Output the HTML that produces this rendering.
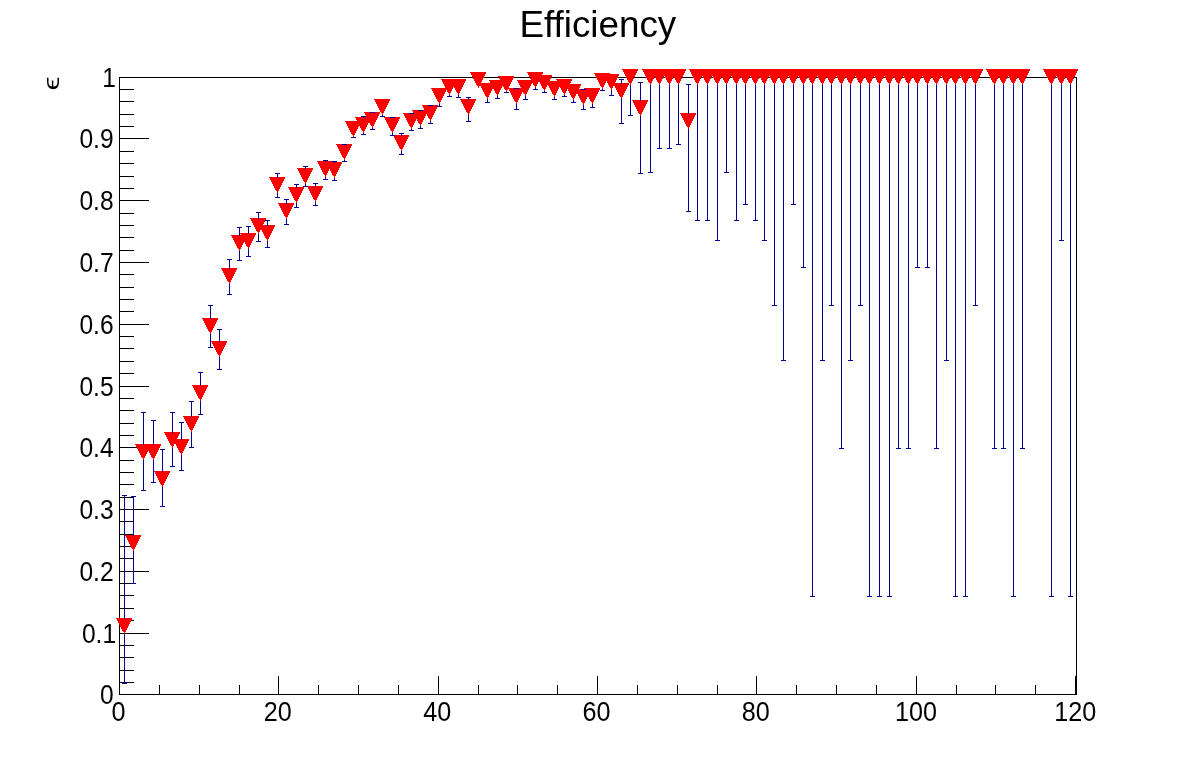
<!DOCTYPE html>
<html><head><meta charset="utf-8"><title>Efficiency</title>
<style>html,body{margin:0;padding:0;background:#fff;}svg{display:block;will-change:transform;}text{font-family:"Liberation Sans",sans-serif;fill:#000;}</style></head>
<body>
<svg width="1196" height="772" viewBox="0 0 1196 772">
<rect width="1196" height="772" fill="#fff"/>
<g shape-rendering="crispEdges" stroke="#000" stroke-width="1" fill="none">
<rect x="119.5" y="77.5" width="957" height="617"/>
<line x1="119.5" y1="694.5" x2="119.5" y2="675.5"/>
<line x1="159.5" y1="694.5" x2="159.5" y2="684.5"/>
<line x1="199.5" y1="694.5" x2="199.5" y2="684.5"/>
<line x1="239.5" y1="694.5" x2="239.5" y2="684.5"/>
<line x1="278.5" y1="694.5" x2="278.5" y2="675.5"/>
<line x1="318.5" y1="694.5" x2="318.5" y2="684.5"/>
<line x1="358.5" y1="694.5" x2="358.5" y2="684.5"/>
<line x1="398.5" y1="694.5" x2="398.5" y2="684.5"/>
<line x1="438.5" y1="694.5" x2="438.5" y2="675.5"/>
<line x1="478.5" y1="694.5" x2="478.5" y2="684.5"/>
<line x1="517.5" y1="694.5" x2="517.5" y2="684.5"/>
<line x1="557.5" y1="694.5" x2="557.5" y2="684.5"/>
<line x1="597.5" y1="694.5" x2="597.5" y2="675.5"/>
<line x1="637.5" y1="694.5" x2="637.5" y2="684.5"/>
<line x1="677.5" y1="694.5" x2="677.5" y2="684.5"/>
<line x1="717.5" y1="694.5" x2="717.5" y2="684.5"/>
<line x1="756.5" y1="694.5" x2="756.5" y2="675.5"/>
<line x1="796.5" y1="694.5" x2="796.5" y2="684.5"/>
<line x1="836.5" y1="694.5" x2="836.5" y2="684.5"/>
<line x1="876.5" y1="694.5" x2="876.5" y2="684.5"/>
<line x1="916.5" y1="694.5" x2="916.5" y2="675.5"/>
<line x1="956.5" y1="694.5" x2="956.5" y2="684.5"/>
<line x1="995.5" y1="694.5" x2="995.5" y2="684.5"/>
<line x1="1035.5" y1="694.5" x2="1035.5" y2="684.5"/>
<line x1="1075.5" y1="694.5" x2="1075.5" y2="675.5"/>
<line x1="119.5" y1="694.5" x2="148.5" y2="694.5"/>
<line x1="119.5" y1="682.5" x2="133.5" y2="682.5"/>
<line x1="119.5" y1="670.5" x2="133.5" y2="670.5"/>
<line x1="119.5" y1="657.5" x2="133.5" y2="657.5"/>
<line x1="119.5" y1="645.5" x2="133.5" y2="645.5"/>
<line x1="119.5" y1="633.5" x2="148.5" y2="633.5"/>
<line x1="119.5" y1="620.5" x2="133.5" y2="620.5"/>
<line x1="119.5" y1="608.5" x2="133.5" y2="608.5"/>
<line x1="119.5" y1="595.5" x2="133.5" y2="595.5"/>
<line x1="119.5" y1="583.5" x2="133.5" y2="583.5"/>
<line x1="119.5" y1="571.5" x2="148.5" y2="571.5"/>
<line x1="119.5" y1="558.5" x2="133.5" y2="558.5"/>
<line x1="119.5" y1="546.5" x2="133.5" y2="546.5"/>
<line x1="119.5" y1="534.5" x2="133.5" y2="534.5"/>
<line x1="119.5" y1="521.5" x2="133.5" y2="521.5"/>
<line x1="119.5" y1="509.5" x2="148.5" y2="509.5"/>
<line x1="119.5" y1="497.5" x2="133.5" y2="497.5"/>
<line x1="119.5" y1="484.5" x2="133.5" y2="484.5"/>
<line x1="119.5" y1="472.5" x2="133.5" y2="472.5"/>
<line x1="119.5" y1="460.5" x2="133.5" y2="460.5"/>
<line x1="119.5" y1="447.5" x2="148.5" y2="447.5"/>
<line x1="119.5" y1="435.5" x2="133.5" y2="435.5"/>
<line x1="119.5" y1="423.5" x2="133.5" y2="423.5"/>
<line x1="119.5" y1="410.5" x2="133.5" y2="410.5"/>
<line x1="119.5" y1="398.5" x2="133.5" y2="398.5"/>
<line x1="119.5" y1="386.5" x2="148.5" y2="386.5"/>
<line x1="119.5" y1="373.5" x2="133.5" y2="373.5"/>
<line x1="119.5" y1="361.5" x2="133.5" y2="361.5"/>
<line x1="119.5" y1="348.5" x2="133.5" y2="348.5"/>
<line x1="119.5" y1="336.5" x2="133.5" y2="336.5"/>
<line x1="119.5" y1="324.5" x2="148.5" y2="324.5"/>
<line x1="119.5" y1="311.5" x2="133.5" y2="311.5"/>
<line x1="119.5" y1="299.5" x2="133.5" y2="299.5"/>
<line x1="119.5" y1="287.5" x2="133.5" y2="287.5"/>
<line x1="119.5" y1="274.5" x2="133.5" y2="274.5"/>
<line x1="119.5" y1="262.5" x2="148.5" y2="262.5"/>
<line x1="119.5" y1="250.5" x2="133.5" y2="250.5"/>
<line x1="119.5" y1="237.5" x2="133.5" y2="237.5"/>
<line x1="119.5" y1="225.5" x2="133.5" y2="225.5"/>
<line x1="119.5" y1="213.5" x2="133.5" y2="213.5"/>
<line x1="119.5" y1="200.5" x2="148.5" y2="200.5"/>
<line x1="119.5" y1="188.5" x2="133.5" y2="188.5"/>
<line x1="119.5" y1="176.5" x2="133.5" y2="176.5"/>
<line x1="119.5" y1="163.5" x2="133.5" y2="163.5"/>
<line x1="119.5" y1="151.5" x2="133.5" y2="151.5"/>
<line x1="119.5" y1="138.5" x2="148.5" y2="138.5"/>
<line x1="119.5" y1="126.5" x2="133.5" y2="126.5"/>
<line x1="119.5" y1="114.5" x2="133.5" y2="114.5"/>
<line x1="119.5" y1="101.5" x2="133.5" y2="101.5"/>
<line x1="119.5" y1="89.5" x2="133.5" y2="89.5"/>
<line x1="119.5" y1="77.5" x2="148.5" y2="77.5"/>
</g>
<g font-size="26.8px">
<text transform="translate(118.5,721) scale(0.94,1)" text-anchor="middle">0</text>
<text transform="translate(277.8,721) scale(0.94,1)" text-anchor="middle">20</text>
<text transform="translate(437.2,721) scale(0.94,1)" text-anchor="middle">40</text>
<text transform="translate(596.5,721) scale(0.94,1)" text-anchor="middle">60</text>
<text transform="translate(755.8,721) scale(0.94,1)" text-anchor="middle">80</text>
<text transform="translate(916.0,721) scale(0.94,1)" text-anchor="middle">100</text>
<text transform="translate(1075.3,721) scale(0.94,1)" text-anchor="middle">120</text>
<text transform="translate(113.6,704.0) scale(0.918,1)" text-anchor="end">0</text>
<text transform="translate(116.1,643.0) scale(0.918,1)" text-anchor="end">0.1</text>
<text transform="translate(113.6,581.0) scale(0.918,1)" text-anchor="end">0.2</text>
<text transform="translate(113.6,519.0) scale(0.918,1)" text-anchor="end">0.3</text>
<text transform="translate(113.6,457.0) scale(0.918,1)" text-anchor="end">0.4</text>
<text transform="translate(113.6,396.0) scale(0.918,1)" text-anchor="end">0.5</text>
<text transform="translate(113.6,334.0) scale(0.918,1)" text-anchor="end">0.6</text>
<text transform="translate(113.6,272.0) scale(0.918,1)" text-anchor="end">0.7</text>
<text transform="translate(113.6,210.0) scale(0.918,1)" text-anchor="end">0.8</text>
<text transform="translate(113.6,148.0) scale(0.918,1)" text-anchor="end">0.9</text>
<text transform="translate(116.0,87.0) scale(0.918,1)" text-anchor="end">1</text>
</g>
<text transform="translate(597.8,36.6) scale(1.014,1)" font-size="36.3px" text-anchor="middle">Efficiency</text>
<text transform="translate(59.3,90.5) rotate(-90) scale(1.22,0.855)" font-size="26px">ϵ</text>
<g shape-rendering="crispEdges" fill="#ff0000" stroke="none">
<polygon points="116,618 132.6,618 124.5,634.4"/>
<polygon points="125,535 141.6,535 133.5,551.4"/>
<polygon points="135,444 151.6,444 143.5,460.4"/>
<polygon points="145,444 161.6,444 153.5,460.4"/>
<polygon points="154,471 170.6,471 162.5,487.4"/>
<polygon points="164,432 180.6,432 172.5,448.4"/>
<polygon points="173,439 189.6,439 181.5,455.4"/>
<polygon points="183,416 199.6,416 191.5,432.4"/>
<polygon points="192,385 208.6,385 200.5,401.4"/>
<polygon points="202,318 218.6,318 210.5,334.4"/>
<polygon points="211,341 227.6,341 219.5,357.4"/>
<polygon points="221,268 237.6,268 229.5,284.4"/>
<polygon points="231,235 247.6,235 239.5,251.4"/>
<polygon points="240,233 256.6,233 248.5,249.4"/>
<polygon points="250,218 266.6,218 258.5,234.4"/>
<polygon points="259,225 275.6,225 267.5,241.4"/>
<polygon points="269,177 285.6,177 277.5,193.4"/>
<polygon points="278,203 294.6,203 286.5,219.4"/>
<polygon points="288,187 304.6,187 296.5,203.4"/>
<polygon points="297,168 313.6,168 305.5,184.4"/>
<polygon points="307,186 323.6,186 315.5,202.4"/>
<polygon points="317,161 333.6,161 325.5,177.4"/>
<polygon points="326,162 342.6,162 334.5,178.4"/>
<polygon points="336,144 352.6,144 344.5,160.4"/>
<polygon points="345,121 361.6,121 353.5,137.4"/>
<polygon points="355,117 371.6,117 363.5,133.4"/>
<polygon points="364,112 380.6,112 372.5,128.4"/>
<polygon points="374,99 390.6,99 382.5,115.4"/>
<polygon points="384,117 400.6,117 392.5,133.4"/>
<polygon points="393,135 409.6,135 401.5,151.4"/>
<polygon points="403,113 419.6,113 411.5,129.4"/>
<polygon points="412,110 428.6,110 420.5,126.4"/>
<polygon points="422,105 438.6,105 430.5,121.4"/>
<polygon points="431,88 447.6,88 439.5,104.4"/>
<polygon points="441,79 457.6,79 449.5,95.4"/>
<polygon points="450,79 466.6,79 458.5,95.4"/>
<polygon points="460,99 476.6,99 468.5,115.4"/>
<polygon points="470,72 486.6,72 478.5,88.4"/>
<polygon points="479,83 495.6,83 487.5,99.4"/>
<polygon points="489,80 505.6,80 497.5,96.4"/>
<polygon points="498,76 514.6,76 506.5,92.4"/>
<polygon points="508,88 524.6,88 516.5,104.4"/>
<polygon points="517,80 533.6,80 525.5,96.4"/>
<polygon points="527,72 543.6,72 535.5,88.4"/>
<polygon points="536,75 552.6,75 544.5,91.4"/>
<polygon points="546,81 562.6,81 554.5,97.4"/>
<polygon points="556,79 572.6,79 564.5,95.4"/>
<polygon points="565,84 581.6,84 573.5,100.4"/>
<polygon points="575,89 591.6,89 583.5,105.4"/>
<polygon points="584,88 600.6,88 592.5,104.4"/>
<polygon points="594,73 610.6,73 602.5,89.4"/>
<polygon points="603,74 619.6,74 611.5,90.4"/>
<polygon points="613,83 629.6,83 621.5,99.4"/>
<polygon points="622,69 638.6,69 630.5,85.4"/>
<polygon points="632,100 648.6,100 640.5,116.4"/>
<polygon points="642,69 658.6,69 650.5,85.4"/>
<polygon points="651,69 667.6,69 659.5,85.4"/>
<polygon points="661,69 677.6,69 669.5,85.4"/>
<polygon points="670,69 686.6,69 678.5,85.4"/>
<polygon points="680,113 696.6,113 688.5,129.4"/>
<polygon points="689,69 705.6,69 697.5,85.4"/>
<polygon points="699,69 715.6,69 707.5,85.4"/>
<polygon points="709,69 725.6,69 717.5,85.4"/>
<polygon points="718,69 734.6,69 726.5,85.4"/>
<polygon points="728,69 744.6,69 736.5,85.4"/>
<polygon points="737,69 753.6,69 745.5,85.4"/>
<polygon points="747,69 763.6,69 755.5,85.4"/>
<polygon points="756,69 772.6,69 764.5,85.4"/>
<polygon points="766,69 782.6,69 774.5,85.4"/>
<polygon points="775,69 791.6,69 783.5,85.4"/>
<polygon points="785,69 801.6,69 793.5,85.4"/>
<polygon points="795,69 811.6,69 803.5,85.4"/>
<polygon points="804,69 820.6,69 812.5,85.4"/>
<polygon points="814,69 830.6,69 822.5,85.4"/>
<polygon points="823,69 839.6,69 831.5,85.4"/>
<polygon points="833,69 849.6,69 841.5,85.4"/>
<polygon points="842,69 858.6,69 850.5,85.4"/>
<polygon points="852,69 868.6,69 860.5,85.4"/>
<polygon points="861,69 877.6,69 869.5,85.4"/>
<polygon points="871,69 887.6,69 879.5,85.4"/>
<polygon points="881,69 897.6,69 889.5,85.4"/>
<polygon points="890,69 906.6,69 898.5,85.4"/>
<polygon points="900,69 916.6,69 908.5,85.4"/>
<polygon points="909,69 925.6,69 917.5,85.4"/>
<polygon points="919,69 935.6,69 927.5,85.4"/>
<polygon points="928,69 944.6,69 936.5,85.4"/>
<polygon points="938,69 954.6,69 946.5,85.4"/>
<polygon points="947,69 963.6,69 955.5,85.4"/>
<polygon points="957,69 973.6,69 965.5,85.4"/>
<polygon points="967,69 983.6,69 975.5,85.4"/>
<polygon points="986,69 1002.6,69 994.5,85.4"/>
<polygon points="995,69 1011.6,69 1003.5,85.4"/>
<polygon points="1005,69 1021.6,69 1013.5,85.4"/>
<polygon points="1014,69 1030.6,69 1022.5,85.4"/>
<polygon points="1043,69 1059.6,69 1051.5,85.4"/>
<polygon points="1053,69 1069.6,69 1061.5,85.4"/>
<polygon points="1062,69 1078.6,69 1070.5,85.4"/>
</g>
<g shape-rendering="crispEdges" stroke="#000099" stroke-width="1" fill="none">
<path d="M124.5 619V495M122 495.5H127"/>
<path d="M124.5 634V684M122 683.5H127"/>
<path d="M133.5 536V496M131 496.5H136"/>
<path d="M133.5 551V584M131 583.5H136"/>
<path d="M143.5 445V412M141 412.5H146"/>
<path d="M143.5 460V491M141 490.5H146"/>
<path d="M153.5 445V420M151 420.5H156"/>
<path d="M153.5 460V483M151 482.5H156"/>
<path d="M162.5 472V449M160 449.5H165"/>
<path d="M162.5 487V507M160 506.5H165"/>
<path d="M172.5 433V412M170 412.5H175"/>
<path d="M172.5 448V467M170 466.5H175"/>
<path d="M181.5 440V422M179 422.5H184"/>
<path d="M181.5 455V471M179 470.5H184"/>
<path d="M191.5 417V401M189 401.5H194"/>
<path d="M191.5 432V448M189 447.5H194"/>
<path d="M200.5 386V372M198 372.5H203"/>
<path d="M200.5 401V415M198 414.5H203"/>
<path d="M210.5 319V305M208 305.5H213"/>
<path d="M210.5 334V348M208 347.5H213"/>
<path d="M219.5 342V329M217 329.5H222"/>
<path d="M219.5 357V370M217 369.5H222"/>
<path d="M229.5 269V259M227 259.5H232"/>
<path d="M229.5 284V295M227 294.5H232"/>
<path d="M239.5 236V227M237 227.5H242"/>
<path d="M239.5 251V261M237 260.5H242"/>
<path d="M248.5 234V226M246 226.5H251"/>
<path d="M248.5 249V257M246 256.5H251"/>
<path d="M258.5 219V212M256 212.5H261"/>
<path d="M258.5 234V242M256 241.5H261"/>
<path d="M267.5 226V220M265 220.5H270"/>
<path d="M267.5 241V248M265 247.5H270"/>
<path d="M277.5 178V173M275 173.5H280"/>
<path d="M277.5 193V198M275 197.5H280"/>
<path d="M286.5 204V199M284 199.5H289"/>
<path d="M286.5 219V225M284 224.5H289"/>
<path d="M296.5 188V184M294 184.5H299"/>
<path d="M296.5 203V208M294 207.5H299"/>
<path d="M305.5 169V166M303 166.5H308"/>
<path d="M305.5 184V187M303 186.5H308"/>
<path d="M315.5 187V183M313 183.5H318"/>
<path d="M315.5 202V206M313 205.5H318"/>
<path d="M325.5 162V160M323 160.5H328"/>
<path d="M325.5 177V180M323 179.5H328"/>
<path d="M334.5 163V161M332 161.5H337"/>
<path d="M334.5 178V181M332 180.5H337"/>
<path d="M344.5 145V144M342 144.5H347"/>
<path d="M344.5 160V162M342 161.5H347"/>
<path d="M353.5 137V138M351 137.5H356"/>
<path d="M363.5 118V116M361 116.5H366"/>
<path d="M363.5 133V135M361 134.5H366"/>
<path d="M372.5 113V112M370 112.5H375"/>
<path d="M372.5 128V130M370 129.5H375"/>
<path d="M382.5 115V117M380 116.5H385"/>
<path d="M392.5 118V117M390 117.5H395"/>
<path d="M392.5 133V136M390 135.5H395"/>
<path d="M401.5 136V133M399 133.5H404"/>
<path d="M401.5 151V155M399 154.5H404"/>
<path d="M411.5 114V113M409 113.5H414"/>
<path d="M411.5 129V131M409 130.5H414"/>
<path d="M420.5 111V110M418 110.5H423"/>
<path d="M420.5 126V129M418 128.5H423"/>
<path d="M430.5 106V105M428 105.5H433"/>
<path d="M430.5 121V124M428 123.5H433"/>
<path d="M439.5 104V107M437 106.5H442"/>
<path d="M449.5 95V97M447 96.5H452"/>
<path d="M458.5 95V98M456 97.5H461"/>
<path d="M468.5 100V97M466 97.5H471"/>
<path d="M468.5 115V122M466 121.5H471"/>
<path d="M487.5 99V103M485 102.5H490"/>
<path d="M497.5 96V99M495 98.5H500"/>
<path d="M506.5 92V93M504 92.5H509"/>
<path d="M516.5 89V88M514 88.5H519"/>
<path d="M516.5 104V110M514 109.5H519"/>
<path d="M525.5 96V100M523 99.5H528"/>
<path d="M535.5 88V90M533 89.5H538"/>
<path d="M544.5 91V93M542 92.5H547"/>
<path d="M554.5 97V100M552 99.5H557"/>
<path d="M564.5 95V97M562 96.5H567"/>
<path d="M573.5 100V103M571 102.5H576"/>
<path d="M583.5 90V89M581 89.5H586"/>
<path d="M583.5 105V110M581 109.5H586"/>
<path d="M592.5 104V108M590 107.5H595"/>
<path d="M602.5 89V91M600 90.5H605"/>
<path d="M611.5 90V96M609 95.5H614"/>
<path d="M621.5 84V79M619 79.5H624"/>
<path d="M621.5 99V124M619 123.5H624"/>
<path d="M630.5 85V116M628 115.5H633"/>
<path d="M640.5 101V82M638 82.5H643"/>
<path d="M640.5 116V174M638 173.5H643"/>
<path d="M650.5 85V173M648 172.5H653"/>
<path d="M659.5 85V149M657 148.5H662"/>
<path d="M669.5 85V149M667 148.5H672"/>
<path d="M678.5 85V145M676 144.5H681"/>
<path d="M688.5 114V84M686 84.5H691"/>
<path d="M688.5 129V212M686 211.5H691"/>
<path d="M697.5 85V221M695 220.5H700"/>
<path d="M707.5 85V221M705 220.5H710"/>
<path d="M717.5 85V241M715 240.5H720"/>
<path d="M726.5 85V173M724 172.5H729"/>
<path d="M736.5 85V221M734 220.5H739"/>
<path d="M745.5 85V205M743 204.5H748"/>
<path d="M755.5 85V221M753 220.5H758"/>
<path d="M764.5 85V241M762 240.5H767"/>
<path d="M774.5 85V306M772 305.5H777"/>
<path d="M783.5 85V361M781 360.5H786"/>
<path d="M793.5 85V205M791 204.5H796"/>
<path d="M803.5 85V268M801 267.5H806"/>
<path d="M812.5 85V597M810 596.5H815"/>
<path d="M822.5 85V361M820 360.5H825"/>
<path d="M831.5 85V306M829 305.5H834"/>
<path d="M841.5 85V449M839 448.5H844"/>
<path d="M850.5 85V361M848 360.5H853"/>
<path d="M860.5 85V306M858 305.5H863"/>
<path d="M869.5 85V597M867 596.5H872"/>
<path d="M879.5 85V597M877 596.5H882"/>
<path d="M889.5 85V597M887 596.5H892"/>
<path d="M898.5 85V449M896 448.5H901"/>
<path d="M908.5 85V449M906 448.5H911"/>
<path d="M917.5 85V268M915 267.5H920"/>
<path d="M927.5 85V268M925 267.5H930"/>
<path d="M936.5 85V449M934 448.5H939"/>
<path d="M946.5 85V361M944 360.5H949"/>
<path d="M955.5 85V597M953 596.5H958"/>
<path d="M965.5 85V597M963 596.5H968"/>
<path d="M975.5 85V306M973 305.5H978"/>
<path d="M994.5 85V449M992 448.5H997"/>
<path d="M1003.5 85V449M1001 448.5H1006"/>
<path d="M1013.5 85V597M1011 596.5H1016"/>
<path d="M1022.5 85V449M1020 448.5H1025"/>
<path d="M1051.5 85V597M1049 596.5H1054"/>
<path d="M1061.5 85V241M1059 240.5H1064"/>
<path d="M1070.5 85V597M1068 596.5H1073"/>
</g>
</svg>
</body></html>
